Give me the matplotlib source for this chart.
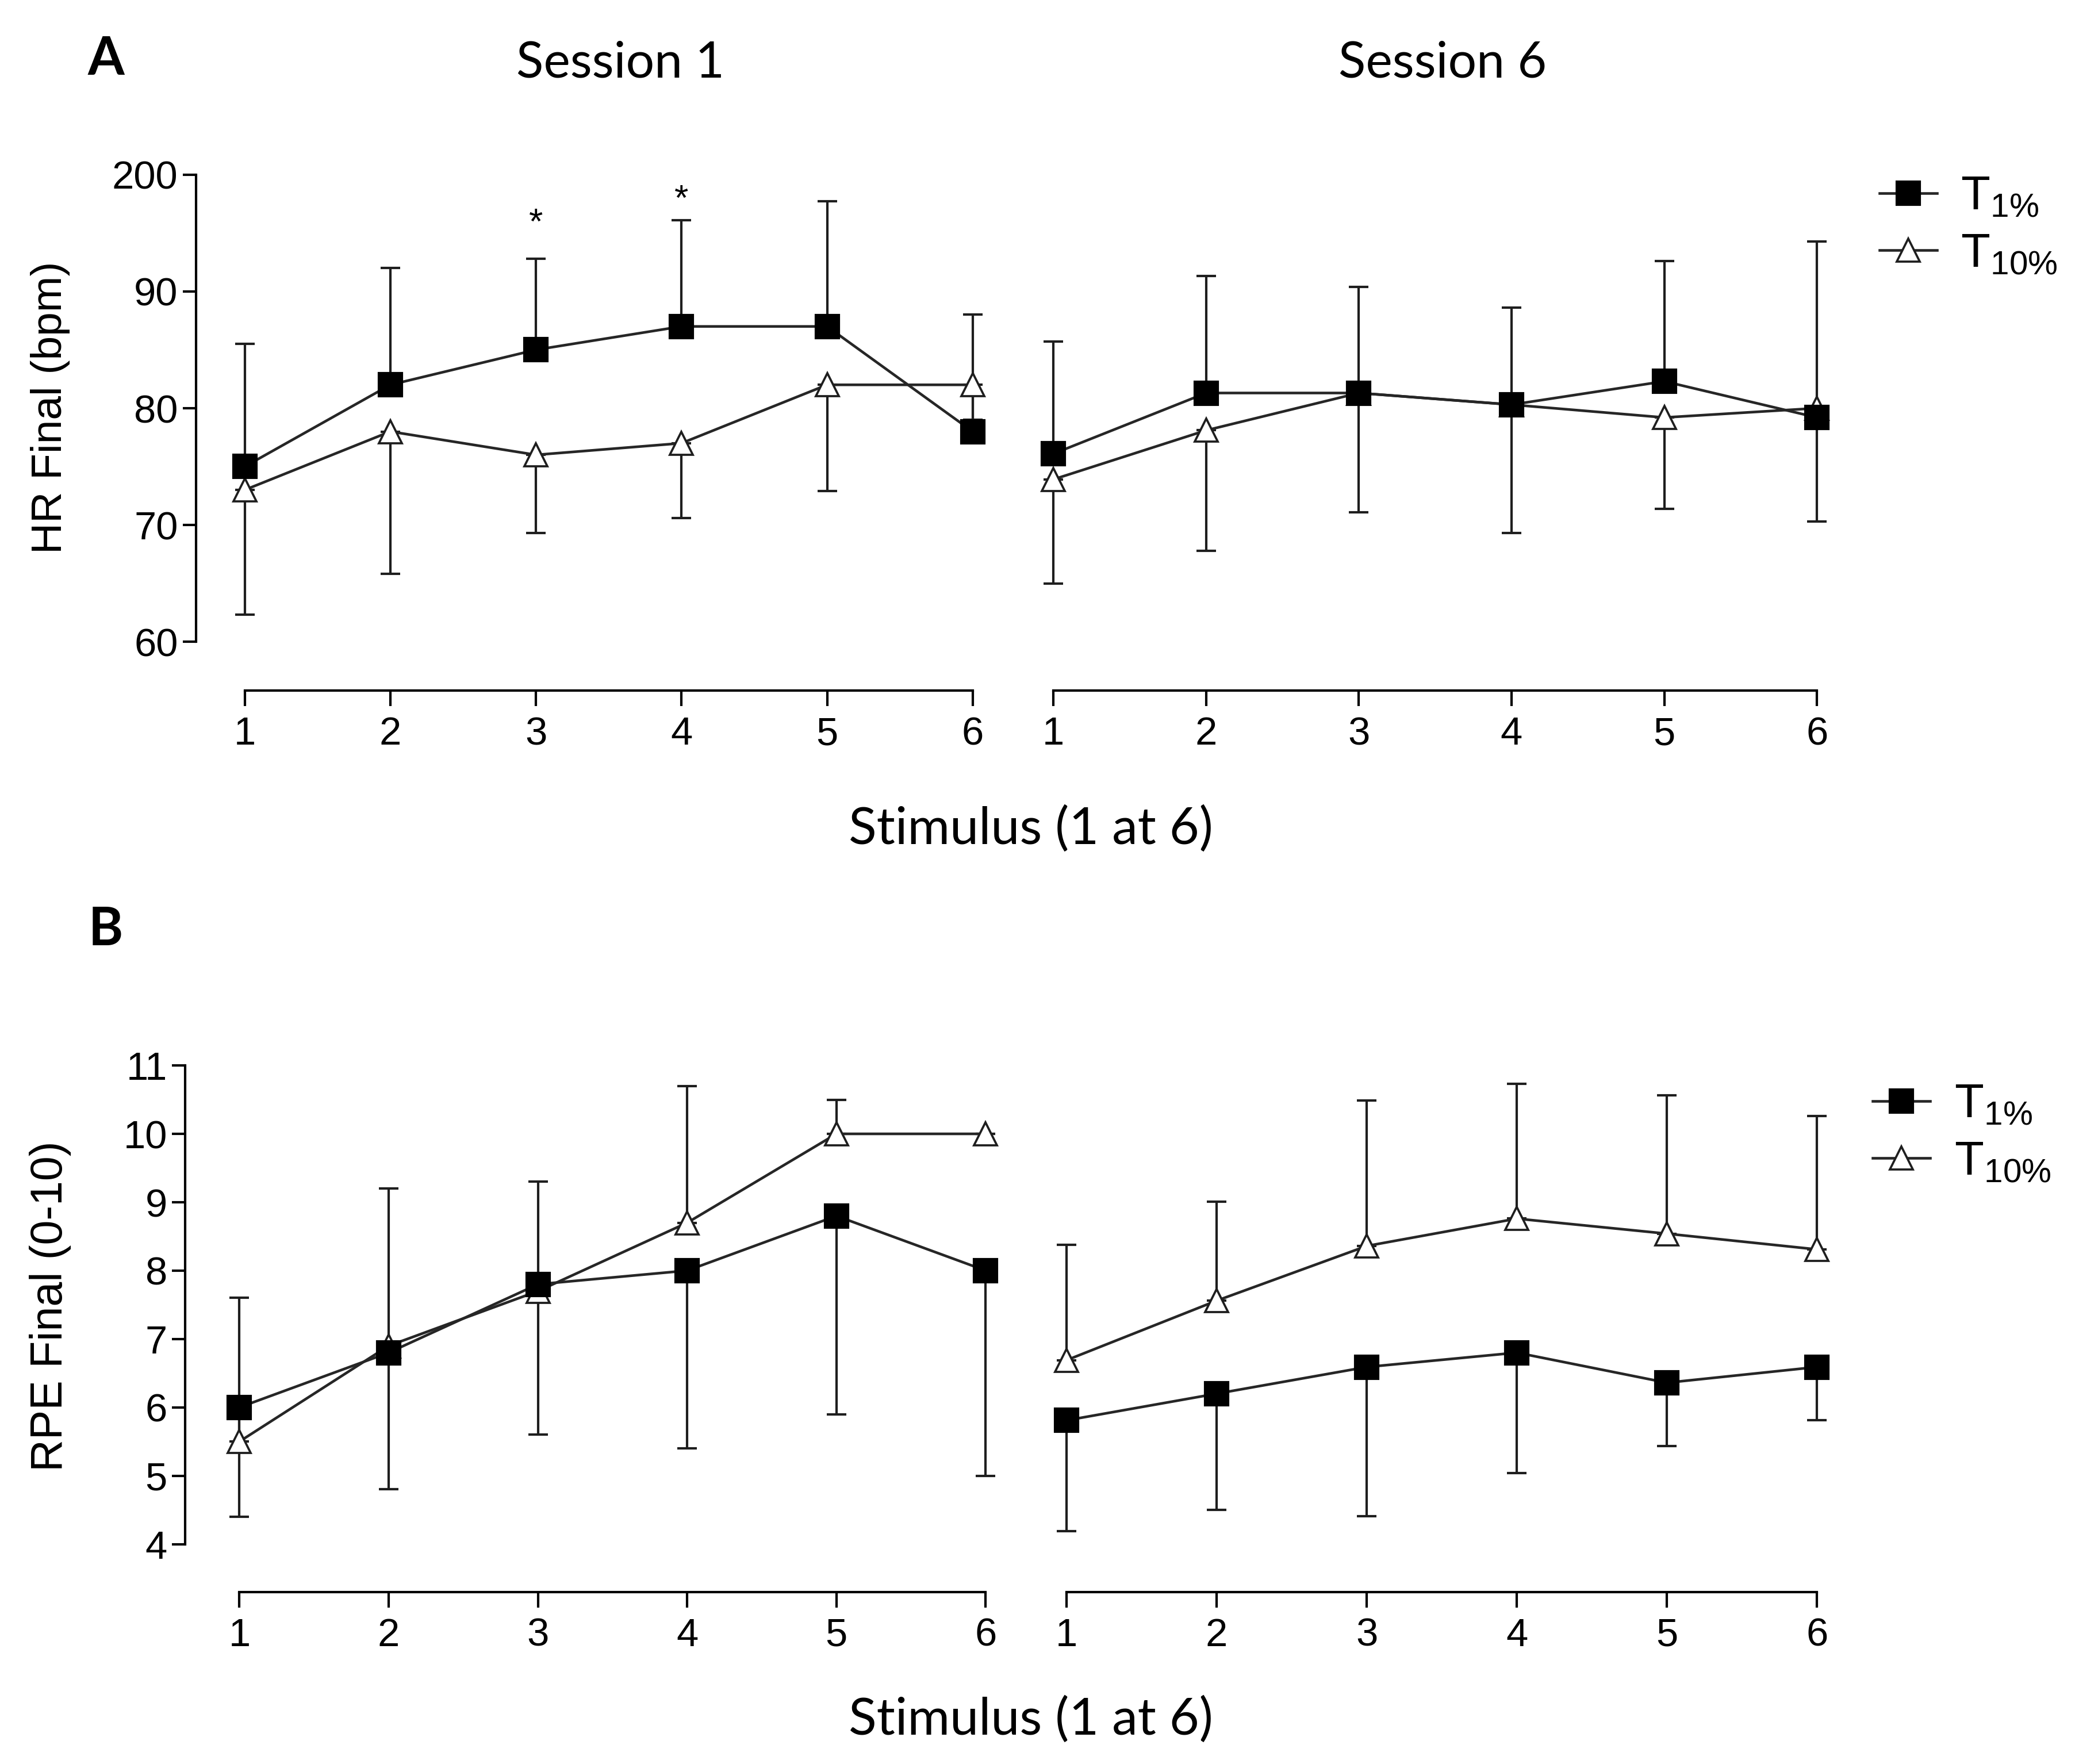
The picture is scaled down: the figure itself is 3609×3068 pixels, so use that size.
import numpy as np
import matplotlib.pyplot as plt

plt.rcParams['mathtext.default'] = 'regular'
plt.rcParams['font.family'] = ['Liberation Sans', 'DejaVu Sans']

stimulus = [1, 2, 3, 4, 5, 6]

# HR final (bpm): means and one-sided SD (T1% up, T10% down)
hr_s1_t1 = [75.0, 82.0, 85.0, 87.0, 87.0, 78.0]
hr_s1_t1_sd = [10.5, 10.0, 7.8, 9.1, 10.7, 10.0]
hr_s1_t10 = [73.0, 78.0, 76.0, 77.0, 82.0, 82.0]
hr_s1_t10_sd = [10.7, 12.2, 6.7, 6.4, 9.1, 3.0]

hr_s6_t1 = [76.1, 81.3, 81.3, 80.3, 82.3, 79.2]
hr_s6_t1_sd = [9.6, 10.0, 9.1, 8.3, 10.3, 15.1]
hr_s6_t10 = [73.9, 78.1, 81.3, 80.3, 79.2, 80.0]
hr_s6_t10_sd = [8.9, 10.3, 10.2, 11.0, 7.8, 9.7]

# RPE final (0-10): means and one-sided SD (T10% up, T1% down)
rpe_s1_t1 = [6.0, 6.8, 7.8, 8.0, 8.8, 8.0]
rpe_s1_t1_sd = [1.6, 2.0, 2.2, 2.6, 2.9, 3.0]
rpe_s1_t10 = [5.5, 6.9, 7.7, 8.7, 10.0, 10.0]
rpe_s1_t10_sd = [2.1, 2.3, 1.6, 2.0, 0.5, 0.0]

rpe_s6_t1 = [5.81, 6.20, 6.59, 6.80, 6.36, 6.59]
rpe_s6_t1_sd = [1.62, 1.70, 2.18, 1.76, 0.93, 0.78]
rpe_s6_t10 = [6.69, 7.56, 8.36, 8.76, 8.54, 8.31]
rpe_s6_t10_sd = [1.69, 1.45, 2.13, 1.97, 2.02, 1.95]

hr_ticks = [60, 70, 80, 90, 100]
hr_ticklabels = ['60', '70', '80', '90', '200']
rpe_ticks = [4, 5, 6, 7, 8, 9, 10, 11]

W, H = 1568.0, 1333.0
fig = plt.figure(figsize=(12.03, 10.227), dpi=300)
TICKFONT = 16.5

def make_ax(px_left, px_right, px_top, px_bottom, xlim, ylim, show_y):
    ax = fig.add_axes([px_left / W, 1 - px_bottom / H,
                       (px_right - px_left) / W, (px_bottom - px_top) / H])
    ax.set_xlim(*xlim)
    ax.set_ylim(*ylim)
    ax.patch.set_visible(False)
    for s in ['top', 'right']:
        ax.spines[s].set_visible(False)
    ax.spines['bottom'].set_bounds(1, 6)
    ax.spines['bottom'].set_linewidth(1.0)
    ax.spines['left'].set_linewidth(1.0)
    ax.set_xticks(stimulus)
    ax.tick_params(axis='x', length=6.5, width=1.0, labelsize=TICKFONT, pad=4)
    ax.tick_params(axis='y', length=5.5, width=1.0, labelsize=TICKFONT, pad=2)
    if not show_y:
        ax.spines['left'].set_visible(False)
        ax.set_yticks([])
    return ax

def draw(ax, m1, sd1, m10, sd10, t1_up):
    zeros = np.zeros(len(stimulus))
    if t1_up:
        e1 = [zeros, sd1]
        e10 = [sd10, zeros]
    else:
        e1 = [sd1, zeros]
        e10 = [zeros, sd10]
    ekw = dict(fmt='none', ecolor='#1e1e1e', elinewidth=1.0, capsize=4, capthick=1.0,
               clip_on=False, zorder=2)
    ax.errorbar(stimulus, m1, yerr=e1, **ekw)
    ax.errorbar(stimulus, m10, yerr=e10, **ekw)
    l10, = ax.plot(stimulus, m10, color='#262626', lw=1.1, marker='^', ms=9.5,
                   mfc='white', mec='#1e1e1e', mew=0.9, clip_on=False, zorder=3)
    l1, = ax.plot(stimulus, m1, color='#262626', lw=1.1, marker='s', ms=9.5,
                  mfc='black', mec='black', clip_on=False, zorder=4)
    return l1, l10

# panel A
ax1 = make_ax(148, 748, 127.6, 522, (0.664, 6.118), (55.8, 100.5), True)
ax1.spines['left'].set_bounds(60, 100)
ax1.set_yticks(hr_ticks)
ax1.set_yticklabels(hr_ticklabels)
draw(ax1, hr_s1_t1, hr_s1_t1_sd, hr_s1_t10, hr_s1_t10_sd, True)
ax1.text(3, 95.8, '*', ha='center', va='center', fontsize=15)
ax1.text(4, 97.8, '*', ha='center', va='center', fontsize=15)

ax2 = make_ax(786, 1385, 127.6, 522, (0.913, 6.104), (55.8, 100.5), False)
h1, h10 = draw(ax2, hr_s6_t1, hr_s6_t1_sd, hr_s6_t10, hr_s6_t10_sd, True)

# panel B
ax3 = make_ax(140, 755, 800, 1203, (0.637, 6.09), (3.30, 11.1), True)
ax3.spines['left'].set_bounds(4, 11)
ax3.set_yticks(rpe_ticks)
ax3.set_yticklabels([str(t) for t in rpe_ticks])
draw(ax3, rpe_s1_t1, rpe_s1_t1_sd, rpe_s1_t10, rpe_s1_t10_sd, False)

ax4 = make_ax(796, 1385, 800, 1203, (0.912, 6.106), (3.30, 11.1), False)
g1, g10 = draw(ax4, rpe_s6_t1, rpe_s6_t1_sd, rpe_s6_t10, rpe_s6_t10_sd, False)

leg_kw = dict(frameon=False, fontsize=20, handlelength=1.2, handletextpad=0.5,
              labelspacing=0.25, borderpad=0, loc='upper left')
fig.legend([h1, h10], ['T$_{1\\%}$', 'T$_{10\\%}$'],
           bbox_to_anchor=(1402 / W, 1 - 114 / H), **leg_kw)
fig.legend([g1, g10], ['T$_{1\\%}$', 'T$_{10\\%}$'],
           bbox_to_anchor=(1397 / W, 1 - 800 / H), **leg_kw)

# labels
fig.text(38 / W, 1 - 308 / H, 'HR Final (bpm)', rotation=90, ha='center', va='center',
         fontsize=18)
fig.text(38 / W, 1 - 987 / H, 'RPE Final (0-10)', rotation=90, ha='center', va='center',
         fontsize=18.5)
for yy in [627, 1300]:
    fig.text(779 / W, 1 - yy / H, 'Stimulus (1 at 6)', ha='center', va='center',
             fontsize=21.5, family=['Lato', 'DejaVu Sans'])
fig.text(469 / W, 1 - 48 / H, 'Session 1', ha='center', va='center', fontsize=21,
         family=['Lato', 'DejaVu Sans'])
fig.text(1090 / W, 1 - 48 / H, 'Session 6', ha='center', va='center', fontsize=21,
         family=['Lato', 'DejaVu Sans'])
fig.text(80 / W, 1 - 45 / H, 'A', ha='center', va='center', fontsize=22,
         fontweight='bold', family=['Lato', 'DejaVu Sans'])
fig.text(80 / W, 1 - 703 / H, 'B', ha='center', va='center', fontsize=22,
         fontweight='bold', family=['Lato', 'DejaVu Sans'])

fig.savefig('out.png', dpi=300, facecolor='white')
